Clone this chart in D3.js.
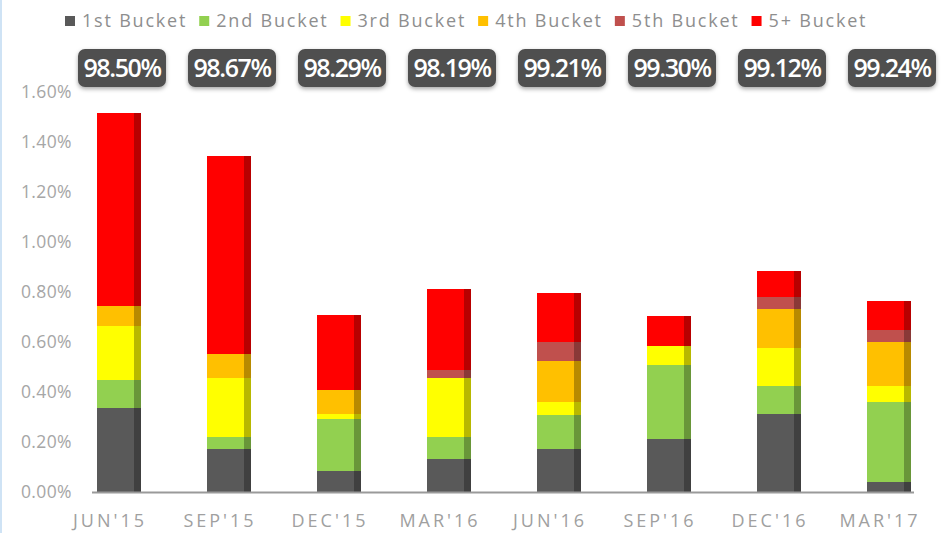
<!DOCTYPE html>
<html>
<head>
<meta charset="utf-8">
<script src="https://cdn.jsdelivr.net/npm/d3@7"></script>
<style>
  html, body { margin: 0; padding: 0; background: #ffffff; }
  svg { display: block; }
</style>
</head>
<body>
<svg id="chart" width="941" height="533"></svg>
<script>
// Quarter labels along the x axis
const quarters = ["JUN'15", "SEP'15", "DEC'15", "MAR'16", "JUN'16", "SEP'16", "DEC'16", "MAR'17"];

// Bucket names, in stacking order (bottom to top)
const buckets = ["1st Bucket", "2nd Bucket", "3rd Bucket", "4th Bucket", "5th Bucket", "5+ Bucket"];
const bucketColors = ["#595959", "#92d050", "#ffff00", "#ffc000", "#c0504d", "#ff0000"];

// Share of each bucket per quarter, in percent
const bucket1 = [0.336, 0.172, 0.084, 0.132, 0.172, 0.212, 0.312, 0.040];
const bucket2 = [0.112, 0.048, 0.208, 0.088, 0.136, 0.296, 0.112, 0.320];
const bucket3 = [0.216, 0.236, 0.020, 0.236, 0.052, 0.076, 0.152, 0.064];
const bucket4 = [0.080, 0.096, 0.096, 0.000, 0.164, 0.000, 0.156, 0.176];
const bucket5 = [0.000, 0.000, 0.000, 0.032, 0.076, 0.000, 0.048, 0.048];
const bucket5plus = [0.772, 0.792, 0.300, 0.324, 0.196, 0.120, 0.104, 0.116];

// Headline rate shown above each quarter
const headline = ["98.50%", "98.67%", "98.29%", "98.19%", "99.21%", "99.30%", "99.12%", "99.24%"];

// Y axis ticks (percent)
const yTicks = [0, 0.2, 0.4, 0.6, 0.8, 1.0, 1.2, 1.4, 1.6];

const seriesValues = [bucket1, bucket2, bucket3, bucket4, bucket5, bucket5plus];
const rows = quarters.map((q, i) => {
  const r = { quarter: q };
  buckets.forEach((b, k) => { r[b] = seriesValues[k][i]; });
  return r;
});

const svg = d3.select("#chart");
const font = "'Open Sans', 'Noto Sans', sans-serif";

const defs = svg.append("defs");
const shadow = defs.append("filter").attr("id", "boxShadow")
  .attr("x", "-20%").attr("y", "-20%").attr("width", "140%").attr("height", "160%");
shadow.append("feDropShadow")
  .attr("dx", 0).attr("dy", 2).attr("stdDeviation", 2)
  .attr("flood-color", "#000").attr("flood-opacity", 0.35);

// thin frame line on the left edge
svg.append("rect").attr("x", 0).attr("y", 0).attr("width", 2).attr("height", 533)
  .attr("fill", "#cfe3f5");

const x = d3.scaleBand()
  .domain(quarters)
  .range([64, 944])
  .paddingInner(0.6)
  .paddingOuter(0.3);

const y = d3.scaleLinear()
  .domain([0, 1.6])
  .range([492, 92]);

const color = d3.scaleOrdinal().domain(buckets).range(bucketColors);

// Y axis labels
const yAxis = d3.axisLeft(y)
  .tickValues(yTicks)
  .tickFormat(d => d.toFixed(2) + "%")
  .tickSize(0)
  .tickPadding(0);
const yg = svg.append("g").attr("transform", "translate(72,0)").call(yAxis);
yg.select(".domain").remove();
yg.selectAll("text")
  .attr("fill", "#a6a6a6")
  .style("font-family", font)
  .style("font-size", "17.5px")
  .style("letter-spacing", "0.4px");

// Stacked bars
const stacked = d3.stack().keys(buckets)(rows);
const layers = svg.append("g");
layers.selectAll("g")
  .data(stacked)
  .join("g")
  .attr("fill", d => color(d.key))
  .selectAll("rect")
  .data(d => d)
  .join("rect")
  .attr("x", d => x(d.data.quarter))
  .attr("y", d => y(d[1]))
  .attr("width", x.bandwidth())
  .attr("height", d => y(d[0]) - y(d[1]));

// darker right edge on each bar
const totals = rows.map(r => d3.sum(buckets, b => r[b]));
svg.append("g").selectAll("rect")
  .data(quarters)
  .join("rect")
  .attr("x", q => x(q) + x.bandwidth() - 7)
  .attr("y", (q, i) => y(totals[i]))
  .attr("width", 7)
  .attr("height", (q, i) => y(0) - y(totals[i]))
  .attr("fill", "#000")
  .attr("opacity", 0.28);

// Baseline
svg.append("line")
  .attr("x1", 92).attr("x2", 914)
  .attr("y1", y(0) + 0.5).attr("y2", y(0) + 0.5)
  .attr("stroke", "#9a9a9a").attr("stroke-width", 2);

// X axis labels
const xAxis = d3.axisBottom(x).tickSize(0).tickPadding(0);
const xg = svg.append("g").attr("transform", "translate(-9,514)").call(xAxis);
xg.select(".domain").remove();
xg.selectAll("text")
  .attr("fill", "#a0a0a0")
  .style("font-family", font)
  .style("font-size", "18px")
  .style("letter-spacing", "3px");

// Headline boxes
const boxW = 88, boxH = 38;
const boxes = svg.append("g").selectAll("g")
  .data(headline)
  .join("g")
  .attr("transform", (d, i) => `translate(${x(quarters[i]) + x.bandwidth() / 2 + 3},49)`);
boxes.append("rect")
  .attr("x", -boxW / 2).attr("y", 0)
  .attr("width", boxW).attr("height", boxH)
  .attr("rx", 7).attr("ry", 7)
  .attr("fill", "#4f4f4f")
  .attr("filter", "url(#boxShadow)");
boxes.append("text")
  .attr("x", 0).attr("y", boxH / 2 + 9)
  .attr("text-anchor", "middle")
  .attr("fill", "#ffffff")
  .style("font-family", font)
  .style("font-size", "25px")
  .style("font-weight", "600")
  .style("letter-spacing", "-1.4px")
  .text(d => d);

// Legend: items flow left to right, each sized to its label
const legend = svg.append("g").attr("transform", "translate(65,16)");
let legendX = 0;
buckets.forEach(b => {
  const item = legend.append("g").attr("transform", `translate(${legendX},0)`);
  item.append("rect")
    .attr("width", 10).attr("height", 10)
    .attr("fill", color(b));
  const label = item.append("text")
    .attr("x", 17).attr("y", 11)
    .attr("fill", "#8e8e8e")
    .style("font-family", font)
    .style("font-size", "18px")
    .style("letter-spacing", "1.8px")
    .text(b);
  legendX += 17 + label.node().getComputedTextLength() + 12;
});
</script>
</body>
</html>
